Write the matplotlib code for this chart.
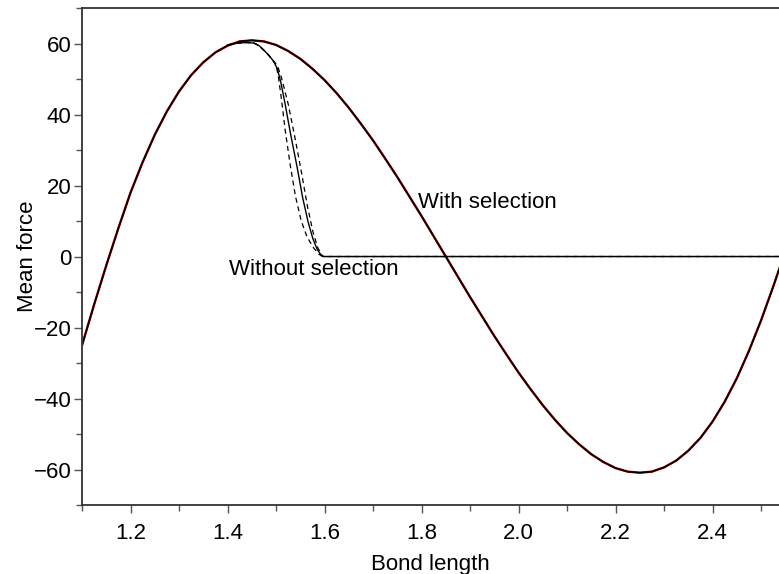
import numpy as np
import matplotlib
matplotlib.use("Agg")
import matplotlib.pyplot as plt
from matplotlib.ticker import MultipleLocator

plt.rc('font', family=['Liberation Sans', 'DejaVu Sans'], size=16)

# mean force with selection
bond = [1.100, 1.125, 1.150, 1.175, 1.200, 1.225, 1.250, 1.275, 1.300, 1.325,
        1.350, 1.375, 1.400, 1.425, 1.450, 1.475, 1.500, 1.525, 1.550, 1.575,
        1.600, 1.625, 1.650, 1.675, 1.700, 1.725, 1.750, 1.775, 1.800, 1.825,
        1.850, 1.875, 1.900, 1.925, 1.950, 1.975, 2.000, 2.025, 2.050, 2.075,
        2.100, 2.125, 2.150, 2.175, 2.200, 2.225, 2.250, 2.275, 2.300, 2.325,
        2.350, 2.375, 2.400, 2.425, 2.450, 2.475, 2.500, 2.525, 2.540]
force = [-25.0, -13.5, -2.5, 8.0, 18.0, 26.6, 34.3, 40.9, 46.5, 51.1,
         54.7, 57.5, 59.4, 60.6, 60.9, 60.6, 59.6, 57.9, 55.7, 52.9,
         49.7, 46.0, 41.9, 37.4, 32.7, 27.6, 22.4, 16.9, 11.4, 5.7,
         0.0, -5.7, -11.4, -16.9, -22.4, -27.6, -32.7, -37.4, -41.9, -46.0,
         -49.7, -52.9, -55.7, -57.9, -59.6, -60.6, -60.9, -60.6, -59.4, -57.5,
         -54.7, -51.1, -46.5, -40.9, -34.3, -26.6, -18.0, -8.5, -2.5]

# mean force without selection: estimate (solid) and two bounds (dashed)
bond_ns = [1.400, 1.420, 1.440, 1.455, 1.465, 1.475, 1.485, 1.495, 1.503, 1.510,
           1.518, 1.530, 1.543, 1.555, 1.566, 1.576, 1.585, 1.594, 1.598, 2.540]
force_ns = [59.6, 60.1, 60.3, 60.1, 59.4, 58.1, 56.7, 55.0, 52.8, 49.0,
            43.5, 34.5, 25.5, 16.5, 9.8, 5.0, 2.0, 0.2, 0.0, 0.0]
bond_lo = [1.400, 1.420, 1.440, 1.455, 1.465, 1.475, 1.485, 1.495, 1.500, 1.505,
           1.511, 1.519, 1.529, 1.540, 1.552, 1.564, 1.577, 1.588, 1.596, 2.540]
force_lo = [59.6, 60.1, 60.3, 60.1, 59.4, 58.1, 56.7, 55.0, 54.0, 50.5,
            44.5, 35.5, 26.0, 17.0, 10.0, 5.5, 2.5, 0.7, 0.0, 0.0]
bond_hi = [1.400, 1.420, 1.440, 1.455, 1.465, 1.475, 1.485, 1.495, 1.503, 1.512,
           1.525, 1.539, 1.552, 1.565, 1.576, 1.586, 1.594, 1.598, 2.540]
force_hi = [59.6, 60.1, 60.3, 60.1, 59.4, 58.1, 56.7, 55.0, 53.8, 50.0,
            43.0, 33.5, 24.0, 14.0, 7.0, 2.5, 0.5, 0.0, 0.0]

fig = plt.figure(figsize=(7.79, 5.74), dpi=100)
ax = fig.add_axes([0.1053, 0.1202, 0.8947, 0.8658])

ax.plot(bond, force, color='#cc0000', lw=1.7)
ax.plot(bond, force, color='black', lw=1.2)
ax.plot(bond_lo, force_lo, color='black', lw=0.9, linestyle=(0, (4, 3)))
ax.plot(bond_hi, force_hi, color='black', lw=0.9, linestyle=(0, (4, 3)))
ax.plot(bond_ns, force_ns, color='black', lw=1.0)

ax.text(1.793, 15.2, 'With selection', va='center', ha='left')
ax.text(1.403, -3.6, 'Without selection', va='center', ha='left')

ax.set_xlim(1.1, 2.537)
ax.set_ylim(-70, 70)
ax.xaxis.set_minor_locator(MultipleLocator(0.1))
ax.yaxis.set_minor_locator(MultipleLocator(10))
ax.set_xticks([1.2, 1.4, 1.6, 1.8, 2.0, 2.2, 2.4])
ax.set_yticks([-60, -40, -20, 0, 20, 40, 60])
ax.set_yticklabels(['\u221260', '\u221240', '\u221220', '0', '20', '40', '60'])

ax.spines['right'].set_visible(False)
for s in ['left', 'bottom', 'top']:
    ax.spines[s].set_linewidth(1.3)
    ax.spines[s].set_color('#333333')
ax.tick_params(which='major', length=6, width=1, color='#555555')
ax.tick_params(which='minor', length=4.5, width=1, color='#555555')
ax.tick_params(axis='x', pad=7)
ax.tick_params(axis='y', pad=1.5)

ax.set_xlabel('Bond length', labelpad=7)
ax.set_ylabel('Mean force', labelpad=-3)

fig.savefig('out.png', dpi=100)
